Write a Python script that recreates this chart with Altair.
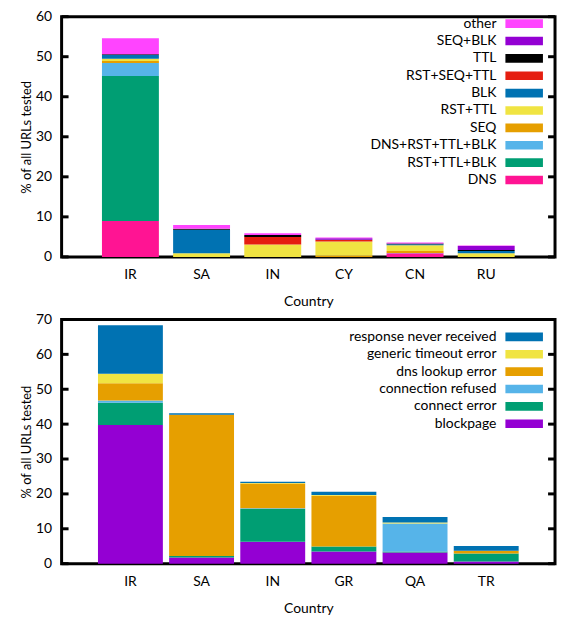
import altair as alt
import pandas as pd

# ---------------- top chart data ----------------
countries_top = ["IR", "SA", "IN", "CY", "CN", "RU"]
series_top = ["DNS", "RST+TTL+BLK", "DNS+RST+TTL+BLK", "SEQ", "RST+TTL", "BLK",
              "RST+SEQ+TTL", "TTL", "SEQ+BLK", "other"]
colors_top = ["#ff1493", "#009e73", "#56b4e9", "#e69f00", "#f0e442", "#0072b2",
              "#e51e10", "#000000", "#9400d3", "#ff44ff"]
dns = [9.0, 0, 0, 0, 0.9, 0]
rst_ttl_blk = [36.2, 0, 0, 0, 0, 0]
dns_rst_ttl_blk = [3.2, 0, 0, 0, 0.05, 0]
seq = [0.5, 0, 0, 0.35, 0.55, 0]
rst_ttl = [0.6, 0.9, 3.1, 3.5, 1.4, 0.9]
blk = [0.9, 5.9, 0, 0, 0.25, 0.6]
rst_seq_ttl = [0, 0, 1.9, 0.35, 0, 0]
ttl = [0.2, 0.25, 0.45, 0.1, 0.22, 0.25]
seq_blk = [0, 0, 0, 0.35, 0, 0.95]
other = [4.0, 0.95, 0.45, 0.2, 0.25, 0.17]
values_top = [dns, rst_ttl_blk, dns_rst_ttl_blk, seq, rst_ttl, blk,
              rst_seq_ttl, ttl, seq_blk, other]

# ---------------- bottom chart data ----------------
countries_bot = ["IR", "SA", "IN", "GR", "QA", "TR"]
series_bot = ["blockpage", "connect error", "connection refused", "dns lookup error",
              "generic timeout error", "response never received"]
colors_bot = ["#9400d3", "#009e73", "#56b4e9", "#e69f00", "#f0e442", "#0072b2"]
blockpage = [39.75, 1.8, 6.3, 3.5, 3.2, 0.6]
connect_error = [6.4, 0.4, 9.4, 1.4, 0.3, 2.3]
conn_refused = [0.6, 0, 0.2, 0, 8.0, 0]
dns_lookup = [5.0, 40.5, 7.1, 14.6, 0, 0.8]
timeout = [2.7, 0, 0.1, 0.2, 0.3, 0]
never_received = [13.9, 0.4, 0.4, 0.9, 1.6, 1.4]
values_bot = [blockpage, connect_error, conn_refused, dns_lookup, timeout, never_received]

W = 497
FONT = "Lato"


def long_df(countries, series, values):
    rows = []
    for i, (s, vals) in enumerate(zip(series, values)):
        for c, v in zip(countries, vals):
            rows.append({"country": c, "series": s, "idx": i, "value": v})
    return pd.DataFrame(rows)


def panel(countries, series, colors, values, ymax, pad_inner, pad_outer, leg_y, h):
    df = long_df(countries, series, values)
    yscale = alt.Scale(domain=[0, ymax], nice=False, zero=True)
    ticks = list(range(0, ymax + 1, 10))
    yaxis = alt.Axis(title="% of all URLs tested", values=ticks, ticks=False,
                     domain=False, grid=False, labelPadding=10,
                     titlePadding=2.5, titleFontSize=13)
    bars = alt.Chart(df).mark_bar().encode(
        x=alt.X("country:N", sort=countries,
                scale=alt.Scale(paddingInner=pad_inner, paddingOuter=pad_outer),
                axis=alt.Axis(title="Country", labelAngle=0, ticks=False, domain=False,
                              labelPadding=11, titlePadding=13)),
        y=alt.Y("value:Q", stack="zero", scale=yscale, axis=yaxis),
        color=alt.Color("series:N",
                        scale=alt.Scale(domain=series[::-1], range=colors[::-1]),
                        legend=alt.Legend(title=None, orient="none", legendX=424,
                                          legendY=leg_y, padding=0,
                                          symbolType="M2.29,-0.62H7.69V0.62H2.29Z",
                                          symbolSize=196, symbolStrokeWidth=0,
                                          symbolOpacity=1, symbolOffset=0,
                                          labelAlign="right",
                                          labelOffset=0, labelFontSize=14,
                                          labelFont=FONT, labelColor="black",
                                          labelLimit=0, rowPadding=3.5)),
        order=alt.Order("idx:Q", sort="ascending"),
    )
    tdf = pd.DataFrame({"t": ticks})
    left = alt.Chart(tdf).mark_rule(color="black", strokeWidth=3).encode(
        y=alt.Y("t:Q", scale=yscale, axis=yaxis), x=alt.value(0), x2=alt.value(7))
    right = alt.Chart(tdf).mark_rule(color="black", strokeWidth=3).encode(
        y=alt.Y("t:Q", scale=yscale, axis=yaxis), x=alt.value(W - 7), x2=alt.value(W))
    return alt.layer(bars, left, right).properties(width=W, height=h)


top = panel(countries_top, series_top, colors_top, values_top, 60, 0.2, 0.567, 0, 242)
bottom = panel(countries_bot, series_bot, colors_bot, values_bot, 70, 0.088, 0.511, 10.5, 246)

chart = alt.vconcat(top, bottom, spacing=0).resolve_scale(
    color="independent", x="independent", y="independent"
).configure_view(
    stroke="black", strokeWidth=3
).configure_axis(
    labelFont=FONT, titleFont=FONT, labelFontSize=14, titleFontSize=14,
    labelColor="black", titleColor="black", titleFontWeight="normal"
).properties(
    padding={"left": 10, "top": -2.5, "right": 0, "bottom": 0}
)

chart.save("out.html", embed_options={"renderer": "svg", "actions": False})
